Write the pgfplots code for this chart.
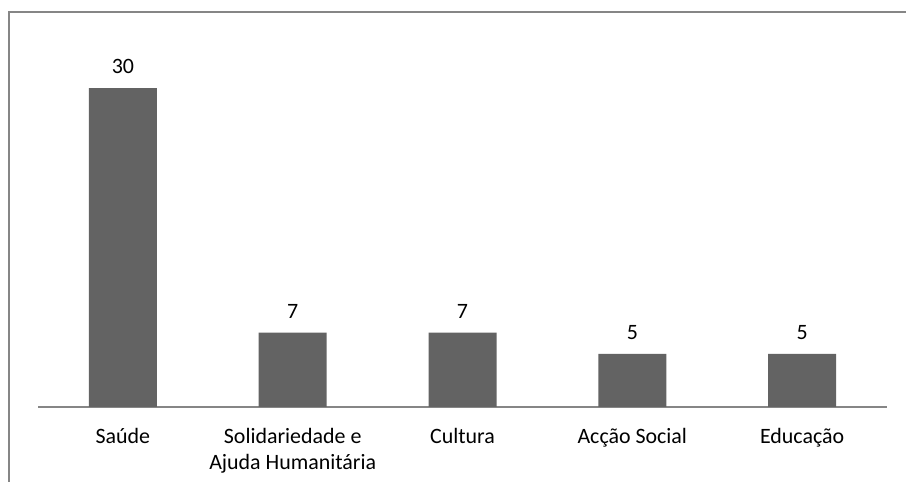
\documentclass[border=0pt]{standalone}
\usepackage{pgfplots}
\pgfplotsset{compat=1.18}
\usepackage{fontspec}
\setmainfont{Carlito}
\definecolor{bargray}{RGB}{99,99,99}
\definecolor{framegray}{RGB}{134,134,134}
\begin{document}
\begin{tikzpicture}
\useasboundingbox (0,0) rectangle (906bp,482bp);
\draw[framegray, line width=1.5bp] (9bp,0) -- (9bp,470bp) -- (906bp,470bp);
\begin{axis}[
    at={(38bp,75bp)}, anchor=south west,
    scale only axis,
    width=849bp, height=319bp,
    xmin=-0.5, xmax=4.5, ymin=0, ymax=30,
    axis x line=bottom, axis y line=none,
    axis line style={-, framegray, line width=1.5bp},
    major tick length=0pt,
    xtick=data,
    xticklabels={Saúde, {Solidariedade e\\Ajuda Humanitária}, Cultura, Acção Social, Educação},
    xticklabel style={font=\fontsize{22}{26}\selectfont, align=center, anchor=north, inner sep=0pt, yshift=-21bp},
    ybar, bar width=68bp,
    clip=false,
    /pgf/number format/assume math mode=true,
    nodes near coords,
    every node near coord/.append style={font=\fontsize{22}{26}\selectfont, anchor=base, inner sep=0pt, yshift=14bp},
]
\addplot[fill=bargray, draw=none] coordinates {(0,30) (1,7) (2,7) (3,5) (4,5)};
\end{axis}
\end{tikzpicture}
\end{document}
